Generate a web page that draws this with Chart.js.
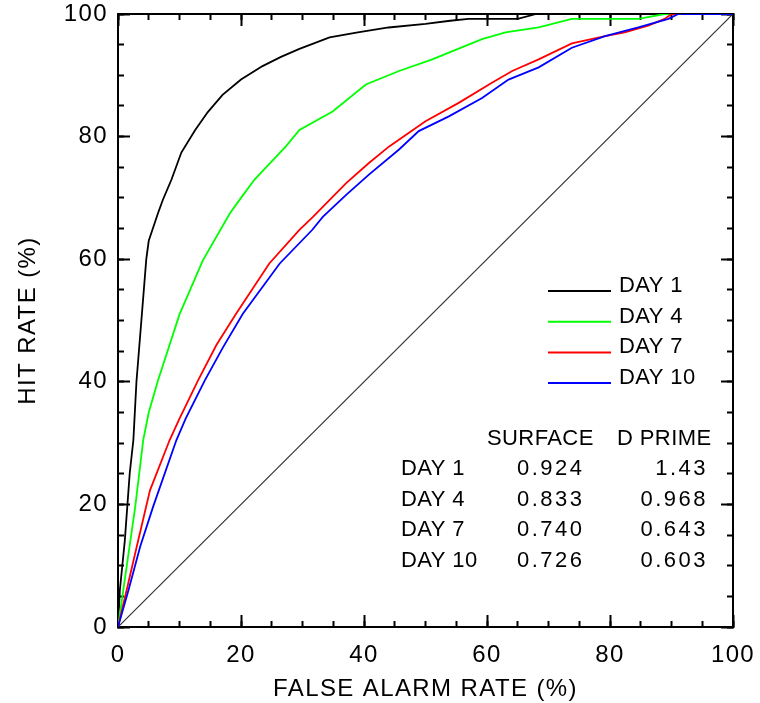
<!DOCTYPE html>
<html>
<head>
<meta charset="utf-8">
<script src="https://cdn.jsdelivr.net/npm/chart.js@4.4.0/dist/chart.umd.min.js"></script>
<style>
  html, body { margin: 0; padding: 0; background: #fff; }
</style>
</head>
<body>
<canvas id="roc" width="760" height="703"></canvas>
<script>
// ROC curves: false alarm rate (%) vs hit rate (%)
const day1FA   = [0, 0.3, 1.1, 1.9, 2.5, 3, 3.8, 4.6, 5, 6.5, 7.3, 8.7, 10.3, 12.5, 14.6, 17, 20, 23.5, 26.5, 29.5, 34.4, 39, 44, 50, 54, 57, 65, 68, 100];
const day1Hit  = [0, 6, 14, 25, 30.5, 40, 50, 60, 63, 67.5, 69.7, 73, 77.4, 81, 84, 86.8, 89.3, 91.5, 93, 94.3, 96.2, 97, 97.8, 98.4, 98.9, 99.2, 99.2, 100, 100];

const day4FA   = [0, 1.4, 2.8, 4.1, 5, 6.5, 10, 13.8, 18.2, 20, 22.2, 27.3, 29.5, 34.9, 40.3, 45.7, 51.1, 59.2, 63, 68.4, 73.8, 84.6, 88.9, 100];
const day4Hit  = [0, 9.8, 19.6, 30.5, 35, 40.2, 51, 59.8, 67.5, 70, 73, 78.4, 81.1, 84.1, 88.5, 90.7, 92.6, 95.9, 97, 97.8, 99.2, 99.2, 100, 100];

const day7FA   = [0, 1.4, 3.3, 5.2, 8.4, 10, 13, 16, 19.2, 24.6, 29.5, 31.7, 37.1, 40.8, 44.1, 50, 55.4, 60.8, 64.1, 68.4, 73.8, 79.2, 82.4, 86.2, 88.9, 90, 100];
const day7Hit  = [0, 6, 14.2, 22.3, 30.5, 34, 40.2, 46, 51.1, 59.3, 64.8, 66.9, 72.4, 75.7, 78.4, 82.5, 85.5, 88.8, 90.7, 92.6, 95.2, 96.4, 97, 98.1, 99.2, 100, 100];

const day10FA  = [0, 1.7, 3.6, 5.7, 9.5, 11, 14.1, 17, 20.3, 26.3, 31.6, 33.3, 37.1, 40.8, 45.7, 48.9, 53.8, 59.2, 63.5, 68.4, 73.8, 79.2, 84.6, 89.5, 91.1, 100];
const day10Hit = [0, 6, 13.1, 19.6, 30.5, 34, 40.2, 45.5, 51.1, 59.3, 64.8, 66.9, 70.5, 73.8, 77.9, 80.9, 83.3, 86.3, 89.3, 91.3, 94.5, 96.4, 97.8, 99.2, 100, 100];

// chance diagonal
const diagFA  = [0, 100];
const diagHit = [0, 100];

const seriesLabels = ['DAY 1', 'DAY 4', 'DAY 7', 'DAY 10'];
const seriesColors = ['#000000', '#00ff00', '#ff0000', '#0000ff'];

// summary table
const tableHeaders = ['SURFACE', 'D PRIME'];
const surfaceVals  = ['0.924', '0.833', '0.740', '0.726'];
const dPrimeVals   = ['1.43', '0.968', '0.643', '0.603'];

const FONT = "'Liberation Sans', Arial, sans-serif";
const toPoints = (xs, ys) => xs.map((x, i) => ({ x: x, y: ys[i] }));

// no extra room for overhanging labels, the frame is fixed by the padding
const noPad = (s) => { s.paddingLeft = 0; s.paddingRight = 0; s.paddingTop = 0; s.paddingBottom = 0; };

// extra axes only used to draw inward tick marks on each side of the frame
function tickScale(position, step, len, weight) {
    const horiz = position === 'top' || position === 'bottom';
    return {
        type: 'linear', position: position, min: 0, max: 100, weight: weight,
        border: { display: false },
        grid: { drawOnChartArea: false, drawTicks: true, tickLength: len, tickWidth: 2, tickColor: '#000', color: '#000' },
        ticks: { display: false, stepSize: step, autoSkip: false },
        afterFit: (s) => { if (horiz) s.height = 0; else s.width = 0; noPad(s); }
    };
}

// the plot font is a wide stroke font, widen the axis text a little
const spacing = {
    id: 'spacing',
    beforeDraw(chart) { chart.ctx.letterSpacing = '1.4px'; },
    afterDatasetsDraw(chart) { chart.ctx.letterSpacing = '0px'; }
};

// legend + table drawn inside the plot
const annotations = {
    id: 'rocText',
    afterDraw(chart) {
        const ctx = chart.ctx;
        ctx.save();
        ctx.font = '22px ' + FONT;
        ctx.fillStyle = '#000';
        ctx.textBaseline = 'alphabetic';
        ctx.letterSpacing = '0.4px';

        seriesLabels.forEach((lab, i) => {
            const y = 291 + i * 30.7;
            ctx.strokeStyle = seriesColors[i];
            ctx.lineWidth = 2;
            ctx.beginPath();
            ctx.moveTo(548, y);
            ctx.lineTo(611, y);
            ctx.stroke();
            ctx.textAlign = 'left';
            ctx.fillText(lab, 619, y + 1);
        });

        ctx.textAlign = 'left';
        ctx.fillText(tableHeaders[0], 487, 445);
        ctx.fillText(tableHeaders[1], 617, 445);

        seriesLabels.forEach((lab, i) => {
            const y = 475 + i * 30.7;
            ctx.letterSpacing = '0.4px';
            ctx.textAlign = 'left';
            ctx.fillText(lab, 401, y);
            ctx.letterSpacing = '2.5px';
            ctx.fillText(surfaceVals[i], 517, y);
            ctx.textAlign = 'right';
            ctx.fillText(dPrimeVals[i], 708, y);
        });
        ctx.restore();
    }
};

const lineSet = (label, xs, ys, color, order, width) => ({
    label: label,
    data: toPoints(xs, ys),
    borderColor: color,
    backgroundColor: color,
    borderWidth: width,
    pointRadius: 0,
    tension: 0,
    fill: false,
    order: order
});

new Chart(document.getElementById('roc'), {
    type: 'line',
    data: {
        datasets: [
            lineSet('chance', diagFA, diagHit, '#333333', 5, 1.2),
            lineSet(seriesLabels[0], day1FA, day1Hit, seriesColors[0], 4, 1.8),
            lineSet(seriesLabels[1], day4FA, day4Hit, seriesColors[1], 3, 1.8),
            lineSet(seriesLabels[2], day7FA, day7Hit, seriesColors[2], 2, 1.8),
            lineSet(seriesLabels[3], day10FA, day10Hit, seriesColors[3], 1, 1.8)
        ]
    },
    options: {
        responsive: false,
        animation: false,
        layout: { padding: { top: 14, right: 27, bottom: 0, left: 0 } },
        scales: {
            x: {
                type: 'linear', position: 'bottom', min: 0, max: 100, weight: 1,
                border: { display: true, color: '#000', width: 2 },
                grid: { drawOnChartArea: false, drawTicks: true, tickLength: -12, tickWidth: 2, tickColor: '#000', color: '#000' },
                ticks: { stepSize: 20, padding: 26, color: '#000', autoSkip: false, maxRotation: 0, font: { family: FONT, size: 24 } },
                title: { display: true, text: 'FALSE ALARM RATE (%)', color: '#000', font: { family: FONT, size: 24 }, padding: { top: 0, bottom: -1 } },
                afterFit: (s) => { s.height = 76; noPad(s); }
            },
            xMinor: tickScale('bottom', 5, -6, 0),
            y: {
                type: 'linear', position: 'left', min: 0, max: 100, weight: 1,
                border: { display: true, color: '#000', width: 2 },
                grid: { drawOnChartArea: false, drawTicks: true, tickLength: -12, tickWidth: 2, tickColor: '#000', color: '#000' },
                ticks: { stepSize: 20, padding: 22, color: '#000', autoSkip: false, font: { family: FONT, size: 24 } },
                title: { display: true, text: 'HIT RATE (%)', color: '#000', font: { family: FONT, size: 24 }, padding: { top: 14, bottom: 0 } },
                afterFit: (s) => { s.width = 118; noPad(s); }
            },
            yMinor: tickScale('left', 5, -6, 0),
            xTop: Object.assign(tickScale('top', 20, -12, 1), { border: { display: true, color: '#000', width: 2 } }),
            xTopMinor: tickScale('top', 5, -6, 0),
            yRight: Object.assign(tickScale('right', 20, -12, 1), { border: { display: true, color: '#000', width: 2 } }),
            yRightMinor: tickScale('right', 5, -6, 0)
        },
        plugins: {
            legend: { display: false },
            tooltip: { enabled: false }
        }
    },
    plugins: [spacing, annotations]
});
</script>
</body>
</html>
